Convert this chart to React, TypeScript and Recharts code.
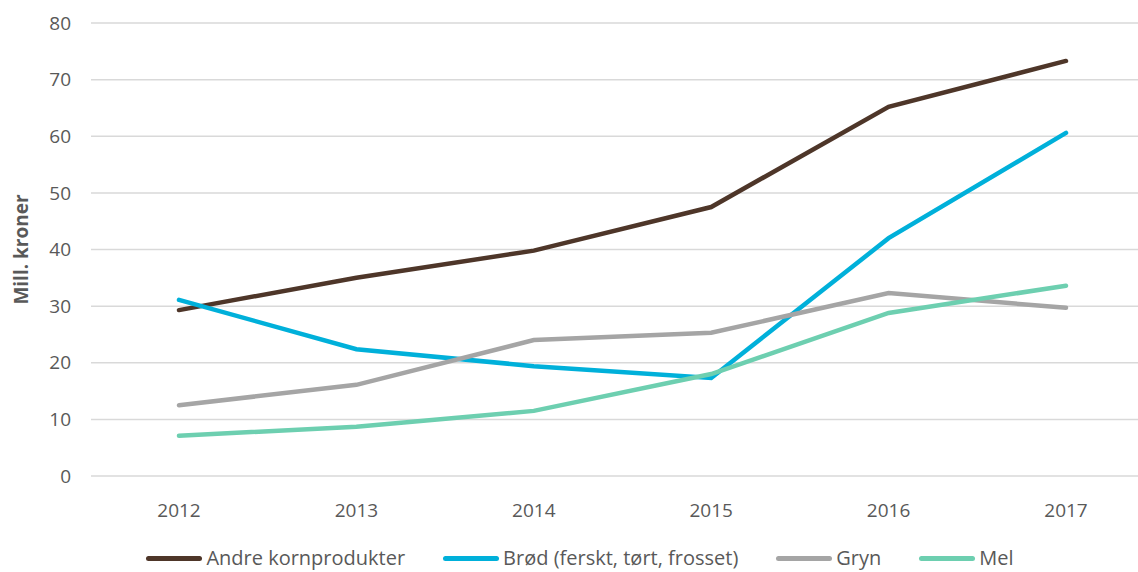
import { LineChart, Line, XAxis, YAxis, CartesianGrid } from "recharts";

const years = ["2012", "2013", "2014", "2015", "2016", "2017"];
const andre = [29.3, 35.0, 39.8, 47.5, 65.2, 73.3];
const brod = [31.1, 22.4, 19.4, 17.3, 42.0, 60.6];
const gryn = [12.5, 16.1, 24.0, 25.3, 32.3, 29.7];
const mel = [7.1, 8.7, 11.5, 18.0, 28.8, 33.6];
const yTicks = [0, 10, 20, 30, 40, 50, 60, 70, 80];

const series = [
  { key: "andre", name: "Andre kornprodukter", color: "#4E3629" },
  { key: "brod", name: "Brød (ferskt, tørt, frosset)", color: "#00B0DA" },
  { key: "gryn", name: "Gryn", color: "#A5A5A5" },
  { key: "mel", name: "Mel", color: "#6DCFB0" },
];

const data = years.map((year, i) => ({
  year,
  andre: andre[i],
  brod: brod[i],
  gryn: gryn[i],
  mel: mel[i],
}));

const font = "'Open Sans', sans-serif";

export default function App() {
  return (
    <div
      style={{
        position: "absolute",
        left: 0,
        top: 0,
        width: 1138,
        height: 572,
        overflow: "hidden",
        background: "#fff",
        fontFamily: font,
      }}
    >
      <LineChart
        width={1154}
        height={572}
        data={data}
        margin={{ top: 23, right: 0, bottom: 56, left: 31 }}
      >
        <CartesianGrid vertical={false} stroke="#D9D9D9" strokeWidth={1.5} />
        <XAxis
          dataKey="year"
          axisLine={false}
          tickLine={false}
          tickMargin={22}
          height={40}
          padding={{ left: 88, right: 88 }}
          tick={{ fill: "#595959", fontSize: 19, fontFamily: font }}
        />
        <YAxis
          domain={[0, 80]}
          ticks={yTicks}
          axisLine={false}
          tickLine={false}
          width={60}
          tickMargin={14}
          tick={{ fill: "#595959", fontSize: 19, fontFamily: font }}
          label={{
            value: "Mill. kroner",
            angle: -90,
            position: "insideLeft",
            offset: -10,
            style: { fill: "#595959", fontSize: 19, fontWeight: 700, fontFamily: font, textAnchor: "middle" },
          }}
        />
        {series.map((s) => (
          <Line
            key={s.key}
            type="linear"
            dataKey={s.key}
            name={s.name}
            stroke={s.color}
            strokeWidth={4.5}
            strokeLinecap="round"
            dot={false}
            activeDot={false}
            isAnimationActive={false}
          />
        ))}
      </LineChart>
      <div
        style={{
          position: "absolute",
          top: 545,
          left: 0,
          width: 1160,
          display: "flex",
          justifyContent: "center",
          alignItems: "center",
          gap: 38,
          fontSize: 20,
          color: "#595959",
          lineHeight: "26px",
        }}
      >
        {series.map((s) => (
          <div key={s.key} style={{ display: "flex", alignItems: "center", gap: 4 }}>
            <span
              style={{
                display: "inline-block",
                width: 56,
                height: 5,
                borderRadius: 3,
                background: s.color,
              }}
            />
            <span>{s.name}</span>
          </div>
        ))}
      </div>
    </div>
  );
}
